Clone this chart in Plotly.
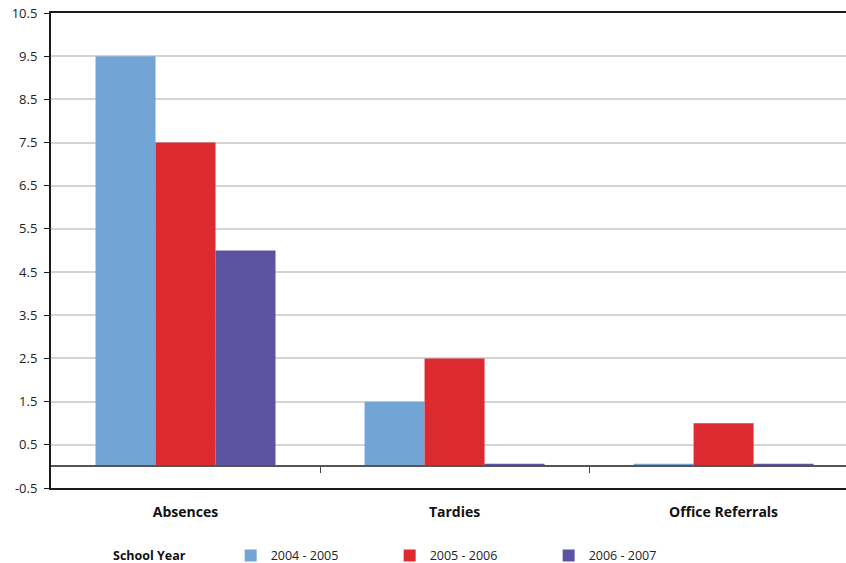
import plotly.graph_objects as go

categories = ["Absences", "Tardies", "Office Referrals"]
years = ["2004 - 2005", "2005 - 2006", "2006 - 2007"]
values_2004_2005 = [9.5, 1.5, 0.06]
values_2005_2006 = [7.5, 2.5, 1.0]
values_2006_2007 = [5.0, 0.06, 0.06]
colors = ["#72A4D6", "#DD2A31", "#5C54A3"]
y_ticks = [-0.5, 0.5, 1.5, 2.5, 3.5, 4.5, 5.5, 6.5, 7.5, 8.5, 9.5, 10.5]

FONT = "Open Sans"
series = [values_2004_2005, values_2005_2006, values_2006_2007]

fig = go.Figure()
for name, vals, col in zip(years, series, colors):
    fig.add_trace(go.Bar(x=categories, y=vals, name=name, marker_color=col,
                         marker_line_width=0, hoverinfo="skip"))

# helper invisible trace for the zero-line axis with category boundary ticks
fig.add_trace(go.Scatter(x=[0, 1, 2], y=[None, None, None], xaxis="x2", yaxis="y",
                         showlegend=False, hoverinfo="skip", mode="markers"))

y_min, y_max = -0.5, 10.5
x_range = [-0.5, 2.455]

fig.update_layout(
    width=846, height=563,
    margin=dict(l=51, r=0, t=13, b=75, autoexpand=False),
    paper_bgcolor="white", plot_bgcolor="white",
    barmode="group", bargap=0.331, bargroupgap=0,
    font=dict(family=FONT, color="#222222"),
    xaxis=dict(
        type="category", range=x_range, showgrid=False, ticks="",
        showline=True, linecolor="#1a1a1a", linewidth=2, mirror=True,
        tickfont=dict(family=FONT, size=14, color="#111111", weight="bold"),
        ticklabelstandoff=10, zeroline=False,
    ),
    xaxis2=dict(
        overlaying="x", anchor="free", position=(0 - y_min) / (y_max - y_min),
        range=x_range, tickvals=[0.5, 1.5], ticks="outside", ticklen=6,
        tickcolor="#444444", tickwidth=1, showticklabels=False,
        showline=True, linecolor="#555555", linewidth=2, showgrid=False,
        zeroline=False,
    ),
    yaxis=dict(
        range=[y_min, y_max], tickvals=y_ticks, ticktext=[f"{v:.1f}" for v in y_ticks],
        showgrid=True, gridcolor="#d4d4d4", gridwidth=1.5,
        showline=True, linecolor="#1a1a1a", linewidth=2,
        ticks="outside", ticklen=5, tickcolor="#1a1a1a", tickwidth=1,
        tickfont=dict(family=FONT, size=13, color="#222222"),
        ticklabelstandoff=4, zeroline=False,
    ),
    legend=dict(
        orientation="h", x=0.226, xanchor="left", y=-0.143, yanchor="middle",
        entrywidth=114, entrywidthmode="pixels",
        font=dict(family=FONT, size=12.5, color="#222222"),
        bgcolor="rgba(0,0,0,0)", traceorder="normal",
    ),
    annotations=[dict(
        text="<b>School Year</b>", xref="paper", yref="paper",
        x=0.075, y=-0.143, xanchor="left", yanchor="middle", showarrow=False,
        font=dict(family=FONT, size=12.5, color="#111111"),
    )],
)

fig.write_html("out.html")
